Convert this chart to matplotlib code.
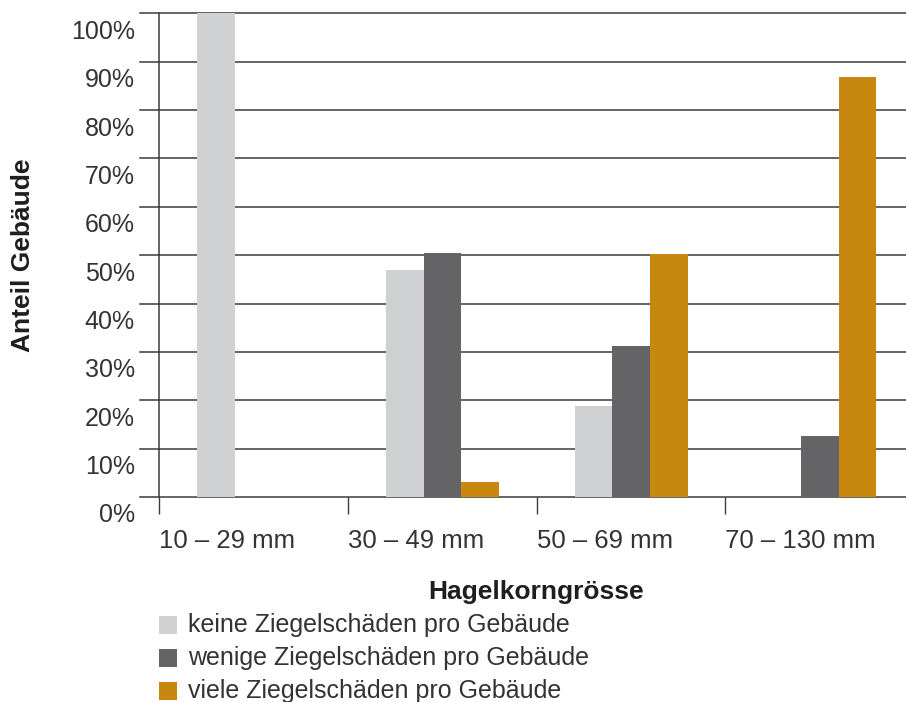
import numpy as np
import matplotlib
matplotlib.use("Agg")
import matplotlib.pyplot as plt
from matplotlib.patches import Rectangle
from matplotlib.transforms import ScaledTranslation

plt.rcParams['font.family'] = ['Liberation Sans', 'DejaVu Sans']

# data (percent of buildings)
categories = ['10 – 29 mm', '30 – 49 mm', '50 – 69 mm', '70 – 130 mm']
series_names = ['keine Ziegelschäden pro Gebäude',
                'wenige Ziegelschäden pro Gebäude',
                'viele Ziegelschäden pro Gebäude']
keine = [100.0, 46.9, 18.8, 0.0]
wenige = [0.0, 50.5, 31.2, 12.6]
viele = [0.0, 3.0, 50.2, 86.8]
y_ticks = [0, 10, 20, 30, 40, 50, 60, 70, 80, 90, 100]

colors = ['#d0d1d3', '#646466', '#c8870f']
grid_col = '#3a3a3a'
text_col = '#333333'

W, H = 906, 702
fig = plt.figure(figsize=(W / 100, H / 100), dpi=100)
ax = fig.add_axes([139.5 / W, (H - 497) / H, (W - 139.5) / W, (497 - 13.3) / H])

# gridlines behind the bars
for v in y_ticks:
    ax.axhline(v, color=grid_col, lw=1.1, zorder=0, clip_on=False)
ax.axvline(0, color=grid_col, lw=1.1, zorder=0, clip_on=False)

x = np.arange(len(categories)) + 0.5
bw = 0.2
for i, vals in enumerate([keine, wenige, viele]):
    ax.bar(x + (i - 1) * bw, vals, width=bw, color=colors[i], zorder=2, linewidth=0)

ax.set_xlim(-0.106, 3.957)
ax.set_ylim(0, 100)
for s in ax.spines.values():
    s.set_visible(False)

# category ticks sit at the group boundaries, labels start at the tick
ax.set_xticks(np.arange(len(categories)))
ax.set_xticklabels(categories, ha='left', fontsize=18.5, color=text_col)
ax.tick_params(axis='x', length=12.2, width=1.0, color=grid_col, pad=11)

ax.set_yticks(y_ticks)
ax.set_yticklabels([f'{v}%' for v in y_ticks], fontsize=18, color=text_col)
ax.tick_params(axis='y', length=0, pad=3.5)
shift = ScaledTranslation(0, -0.16, fig.dpi_scale_trans)
for lab in ax.get_yticklabels():
    lab.set_transform(lab.get_transform() + shift)

fig.text(23 / W, 1 - 255 / H, 'Anteil Gebäude', rotation=90, ha='center', va='center',
         fontsize=19, fontweight='bold', color='#1e1e1e')
fig.text(536 / W, 1 - 592 / H, 'Hagelkorngrösse', ha='center', va='center',
         fontsize=19, fontweight='bold', color='#1e1e1e')

# legend drawn below the axis title
for i, name in enumerate(series_names):
    yc = 625 + i * 33
    fig.add_artist(Rectangle((158.5 / W, 1 - (yc + 9) / H), 18.5 / W, 18.5 / H,
                             transform=fig.transFigure, color=colors[i], lw=0))
    fig.text(188 / W, 1 - yc / H, name, ha='left', va='center', fontsize=18, color=text_col)

fig.savefig('out.png', dpi=100)
